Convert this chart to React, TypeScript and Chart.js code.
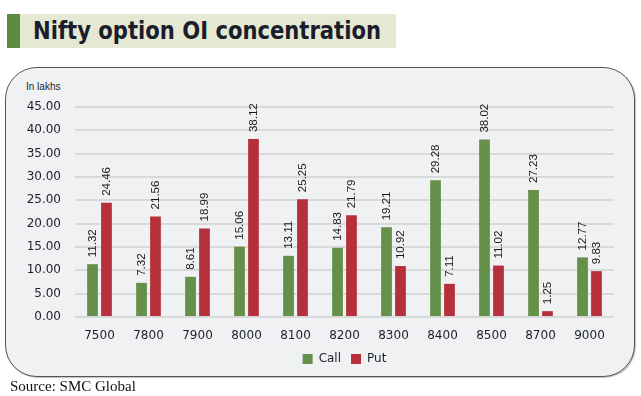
import React, { useEffect, useLayoutEffect, useRef } from "react";
import { Chart, registerables } from "chart.js";

Chart.register(...registerables);

const strikes = ["7500", "7800", "7900", "8000", "8100", "8200", "8300", "8400", "8500", "8700", "9000"];
const callOI = [11.32, 7.32, 8.61, 15.06, 13.11, 14.83, 19.21, 29.28, 38.02, 27.23, 12.77];
const putOI = [24.46, 21.56, 18.99, 38.12, 25.25, 21.79, 10.92, 7.11, 11.02, 1.25, 9.83];
const seriesNames = ["Call", "Put"];
const yMin = 0;
const yMax = 45;
const yStep = 5;

const GREEN = "#64904a";
const RED = "#b5303a";
const TEXT = "#1c1f2b";

const valueLabels = {
  id: "valueLabels",
  afterDatasetsDraw(chart: any) {
    const ctx = chart.ctx;
    ctx.save();
    ctx.font = "11.5px 'Liberation Sans', Arial, sans-serif";
    ctx.fillStyle = "#1a1a1a";
    ctx.textAlign = "left";
    ctx.textBaseline = "middle";
    chart.data.datasets.forEach((ds: any, i: number) => {
      const meta = chart.getDatasetMeta(i);
      meta.data.forEach((bar: any, j: number) => {
        const v = ds.data[j] as number;
        ctx.save();
        ctx.translate(bar.x, bar.y - 7);
        ctx.rotate(-Math.PI / 2);
        ctx.fillText(v.toFixed(2), 0, 0);
        ctx.restore();
      });
    });
    ctx.restore();
  },
};

export default function App() {
  const canvasRef = useRef<HTMLCanvasElement | null>(null);
  const titleRef = useRef<HTMLSpanElement | null>(null);

  useLayoutEffect(() => {
    const el = titleRef.current;
    if (el) {
      el.style.transform = "none";
      const w = el.getBoundingClientRect().width;
      if (w > 0) el.style.transform = `scaleX(${348 / w})`;
    }
  }, []);

  useEffect(() => {
    const canvas = canvasRef.current;
    if (!canvas) return;
    const chart = new Chart(canvas, {
      type: "bar",
      data: {
        labels: strikes,
        datasets: [
          {
            label: seriesNames[0],
            data: callOI,
            backgroundColor: GREEN,
            borderWidth: 0,
            categoryPercentage: 0.57,
            barPercentage: 0.77,
          },
          {
            label: seriesNames[1],
            data: putOI,
            backgroundColor: RED,
            borderWidth: 0,
            categoryPercentage: 0.57,
            barPercentage: 0.77,
          },
        ],
      },
      options: {
        responsive: false,
        animation: false,
        devicePixelRatio: 1,
        layout: { padding: { left: 0, right: 27, top: 107, bottom: 21 } },
        plugins: {
          tooltip: { enabled: false },
          title: { display: false },
          legend: {
            display: true,
            position: "bottom",
            fullSize: false,
            labels: {
              boxWidth: 10,
              boxHeight: 10,
              padding: 10,
              color: TEXT,
              font: { family: "'DejaVu Sans', Verdana, sans-serif", size: 12 },
            },
          },
        },
        scales: {
          x: {
            grid: { display: false, drawTicks: false },
            border: { display: false },
            ticks: {
              color: TEXT,
              padding: 12,
              maxRotation: 0,
              autoSkip: false,
              font: { family: "'DejaVu Sans', Verdana, sans-serif", size: 12 },
            },
            afterFit: (s: any) => {
              s.height = 26;
            },
          },
          y: {
            min: yMin,
            max: yMax,
            grid: { color: "#d8d9db", lineWidth: 2, drawTicks: false },
            border: { display: false },
            ticks: {
              stepSize: yStep,
              color: TEXT,
              padding: 14,
              font: { family: "'DejaVu Sans', Verdana, sans-serif", size: 12 },
              callback: (v: any) => Number(v).toFixed(2),
            },
            afterFit: (s: any) => {
              s.width = 75;
            },
          },
        },
      },
      plugins: [valueLabels],
    } as any);
    return () => chart.destroy();
  }, []);

  return (
    <div style={{ position: "fixed", left: 0, top: 0, width: 641, height: 396, background: "#fff", overflow: "hidden" }}>
      <div style={{ position: "absolute", left: 7, top: 14, width: 13, height: 34, background: "#5e8b41" }} />
      <div style={{ position: "absolute", left: 20, top: 14, width: 376, height: 34, background: "#e5e8d3" }} />
      <span
        ref={titleRef}
        style={{
          position: "absolute",
          left: 33,
          top: 17,
          fontFamily: "'DejaVu Sans', Verdana, sans-serif",
          fontWeight: 700,
          fontSize: 24,
          lineHeight: "28px",
          color: "#1b1d2a",
          whiteSpace: "nowrap",
          transformOrigin: "left center",
        }}
      >
        Nifty option OI concentration
      </span>
      <div
        style={{
          position: "absolute",
          left: 5,
          top: 67,
          width: 630,
          height: 310,
          boxSizing: "border-box",
          border: "1.5px solid #555",
          borderRadius: 32,
          background: "#f0f1f3",
          boxShadow: "1px 1px 1px rgba(0,0,0,0.25)",
        }}
      />
      <div
        style={{
          position: "absolute",
          left: 26,
          top: 80,
          fontFamily: "'Liberation Sans', Arial, sans-serif",
          fontSize: 10,
          lineHeight: "13px",
          color: TEXT,
        }}
      >
        In lakhs
      </div>
      <canvas ref={canvasRef} width={641} height={396} style={{ position: "absolute", left: 0, top: 0, width: 641, height: 396 }} />
      <div
        style={{
          position: "absolute",
          left: 10,
          top: 377,
          fontFamily: "'Liberation Serif', 'Times New Roman', serif",
          fontSize: 15,
          lineHeight: "18px",
          color: "#111",
          whiteSpace: "nowrap",
        }}
      >
        Source: SMC Global
      </div>
    </div>
  );
}
